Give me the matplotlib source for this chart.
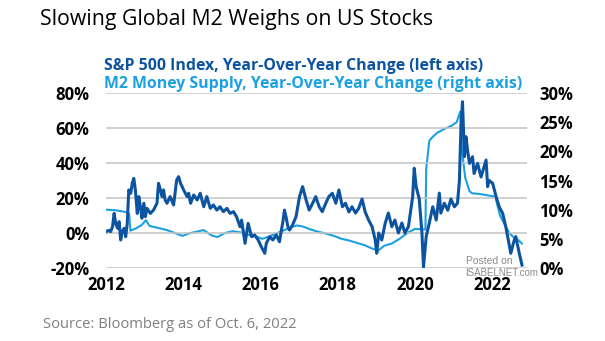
import matplotlib
matplotlib.use("Agg")
import matplotlib.pyplot as plt

# S&P 500 year-over-year change, % (left axis)
sp_t = [2012.00, 2012.07, 2012.12, 2012.17, 2012.21, 2012.25, 2012.30, 2012.34, 2012.38,
        2012.42, 2012.47, 2012.51, 2012.55, 2012.59, 2012.64, 2012.68, 2012.72, 2012.76,
        2012.81, 2012.85, 2012.89, 2012.93, 2012.98, 2013.02, 2013.06, 2013.15, 2013.23,
        2013.32, 2013.36, 2013.41, 2013.45, 2013.49, 2013.53, 2013.58, 2013.66, 2013.75,
        2013.83, 2013.88, 2013.93, 2014.01, 2014.10, 2014.14, 2014.19, 2014.27, 2014.36,
        2014.44, 2014.53, 2014.61, 2014.70, 2014.78, 2014.87, 2014.95, 2015.04, 2015.13,
        2015.21, 2015.30, 2015.38, 2015.47, 2015.51, 2015.60, 2015.64, 2015.68, 2015.77,
        2015.85, 2015.94, 2016.02, 2016.11, 2016.15, 2016.24, 2016.32, 2016.41, 2016.49,
        2016.58, 2016.62, 2016.66, 2016.71, 2016.75, 2016.83, 2016.92, 2017.01, 2017.09,
        2017.18, 2017.26, 2017.35, 2017.43, 2017.52, 2017.60, 2017.69, 2017.77, 2017.86,
        2017.95, 2018.03, 2018.12, 2018.20, 2018.29, 2018.37, 2018.46, 2018.54, 2018.63,
        2018.71, 2018.80, 2018.89, 2018.97, 2019.01, 2019.06, 2019.14, 2019.23, 2019.31,
        2019.40, 2019.48, 2019.57, 2019.66, 2019.74, 2019.83, 2019.94, 2019.98, 2020.03,
        2020.11, 2020.18, 2020.22, 2020.29, 2020.37, 2020.46, 2020.55, 2020.63, 2020.67,
        2020.76, 2020.85, 2020.93, 2021.02, 2021.10, 2021.15, 2021.19, 2021.23, 2021.28,
        2021.32, 2021.36, 2021.41, 2021.49, 2021.53, 2021.62, 2021.71, 2021.79, 2021.84,
        2021.88, 2021.92, 2022.01, 2022.10, 2022.18, 2022.27, 2022.35, 2022.40, 2022.48,
        2022.57, 2022.61, 2022.70, 2022.77]
sp_v = [0.8, 1.5, 0.8, 3.6, 11.2, 5.5, 2.7, 6.5, -4.0,
        0.8, 2.7, -2.1, 5.5, 24.6, 22.7, 28.4, 31.2, 24.6,
        11.2, 20.8, 15.0, 8.4, 17.0, 9.3, 14.1, 11.2, 13.1,
        17.0, 28.4, 24.6, 20.8, 24.6, 18.9, 17.0, 20.8, 16.0,
        30.3, 32.2, 28.4, 24.6, 20.8, 22.7, 17.0, 21.7, 18.9,
        22.7, 15.0, 20.8, 14.1, 16.0, 13.1, 15.0, 12.2, 14.1,
        11.2, 12.2, 9.3, 3.6, 7.4, -5.9, -0.2, 5.5, -2.1,
        -1.1, -4.0, -7.8, -11.6, -5.9, -2.1, -4.0, -1.1, -5.0,
        6.5, 13.1, 9.3, 3.6, 1.7, 4.6, 9.3, 20.8, 26.5,
        18.9, 13.1, 17.0, 20.8, 15.0, 12.2, 17.0, 20.8, 22.7,
        17.0, 24.6, 15.0, 17.0, 12.0, 15.0, 11.4, 14.0, 19.4,
        12.0, 7.4, 3.6, -4.0, -11.6, 0.0, -4.0, 5.7, 11.4,
        3.6, 7.4, 0.0, 5.7, 0.0, 3.6, 20.8, 37.0, 26.5,
        19.4, 0.0, -19.5, -2.0, 5.7, 15.0, 7.4, 22.8, 11.4,
        17.0, 13.0, 19.4, 15.0, 17.0, 30.0, 60.7, 75.0, 43.6,
        55.0, 47.4, 39.8, 43.6, 34.0, 39.8, 32.0, 37.9, 41.7,
        26.5, 30.0, 28.4, 20.8, 15.0, 11.2, 3.6, -2.1, -11.6,
        -4.0, -2.1, -11.6, -18.3]

# M2 money supply year-over-year change, % (right axis)
m2_t = [2012.00, 2012.25, 2012.50, 2012.60, 2012.63, 2012.78, 2012.93, 2013.03, 2013.13,
        2013.33, 2013.58, 2013.78, 2013.98, 2014.13, 2014.33, 2014.53, 2014.73, 2014.88,
        2015.08, 2015.28, 2015.48, 2015.68, 2015.88, 2016.05, 2016.30, 2016.55, 2016.80,
        2016.95, 2017.10, 2017.30, 2017.50, 2017.70, 2017.90, 2018.10, 2018.30, 2018.50,
        2018.70, 2018.90, 2019.05, 2019.20, 2019.40, 2019.60, 2019.80, 2020.00, 2020.27,
        2020.29, 2020.37, 2020.46, 2020.58, 2020.75, 2020.95, 2021.08, 2021.17, 2021.21,
        2021.30, 2021.41, 2021.48, 2021.66, 2021.85, 2022.08, 2022.20, 2022.44, 2022.55,
        2022.65, 2022.77]
m2_v = [10.0, 9.9, 9.6, 9.3, 6.4, 6.8, 7.4, 8.2, 7.2,
        6.9, 6.5, 6.0, 5.5, 5.9, 6.2, 6.5, 5.6, 5.3,
        6.0, 6.3, 6.1, 5.7, 5.4, 5.0, 5.6, 6.3, 7.0,
        7.3, 7.1, 6.6, 6.2, 5.9, 5.5, 5.0, 4.7, 4.3,
        3.9, 3.3, 3.0, 3.8, 4.2, 5.0, 6.0, 6.7, 6.6,
        17.0, 21.8, 22.5, 23.2, 23.8, 24.4, 25.0, 26.8, 20.5,
        15.5, 13.2, 12.8, 12.7, 12.5, 12.2, 9.0, 6.0, 5.3,
        4.9, 4.2]

left_ticks = [-20, 0, 20, 40, 60, 80]
right_ticks = [0, 5, 10, 15, 20, 25, 30]
year_ticks = [2012, 2014, 2016, 2018, 2020, 2022]

dark_blue = "#0d54a0"
light_blue = "#1ba1e2"
grid_grey = "#c4c4c4"

plt.rcParams['font.family'] = ['Open Sans', 'DejaVu Sans']

fig = plt.figure(figsize=(6.05, 3.41), dpi=100)
ax = fig.add_axes([106 / 605, 1 - 268 / 341, (527 - 106) / 605, (268 - 93) / 341])
ax2 = ax.twinx()

ax.set_xlim(2012, 2022.9)
ax.set_ylim(-20, 80)
ax2.set_ylim(0, 30)

ax.set_yticks(left_ticks)
ax.set_yticklabels([f"{v}%" for v in left_ticks])
ax2.set_yticks(right_ticks)
ax2.set_yticklabels([f"{v}%" for v in right_ticks])
ax.set_xticks(year_ticks)
ax.set_xticklabels([str(y) for y in year_ticks])

ax.grid(axis='y', color=grid_grey, linewidth=1.1)
ax.set_axisbelow(True)
for a in (ax, ax2):
    for s in a.spines.values():
        s.set_visible(False)
    a.tick_params(length=0, labelsize=12)
    for lab in a.get_yticklabels() + a.get_xticklabels():
        lab.set_fontweight('bold')
ax.tick_params(axis='y', pad=12)
ax2.tick_params(axis='y', pad=9)
ax.tick_params(axis='x', pad=6)

ax2.plot(m2_t, m2_v, color=light_blue, linewidth=1.5, zorder=2)
ax.plot(sp_t, sp_v, color=dark_blue, linewidth=2.2, zorder=3)
ax.set_zorder(ax2.get_zorder() + 1)
ax.patch.set_visible(False)

fig.text(40 / 605, 1 - 20 / 341, "Slowing Global M2 Weighs on US Stocks",
         fontsize=15.3, va='center', ha='left', color='black')
fig.text(104 / 605, 1 - 66 / 341, "S&P 500 Index, Year-Over-Year Change (left axis)",
         fontsize=11.4, fontweight='bold', color=dark_blue, va='center', ha='left')
fig.text(104 / 605, 1 - 84 / 341, "M2 Money Supply, Year-Over-Year Change (right axis)",
         fontsize=11.4, fontweight='bold', color=light_blue, va='center', ha='left')
fig.text(43 / 605, 1 - 324 / 341, "Source: Bloomberg as of Oct. 6, 2022",
         fontsize=10.6, color='#7f7f7f', va='center', ha='left')

# watermark
fig.text(489 / 605, 1 - 261 / 341, "Posted on", fontsize=7.5, color='#8a8a8a',
         family=['Liberation Sans', 'DejaVu Sans'], va='center', ha='center')
fig.text(502 / 605, 1 - 273 / 341, "ISABELNET.com", fontsize=7, color='#8a8a8a',
         family=['Liberation Sans', 'DejaVu Sans'], va='center', ha='center')

fig.savefig("out.png", dpi=100)
